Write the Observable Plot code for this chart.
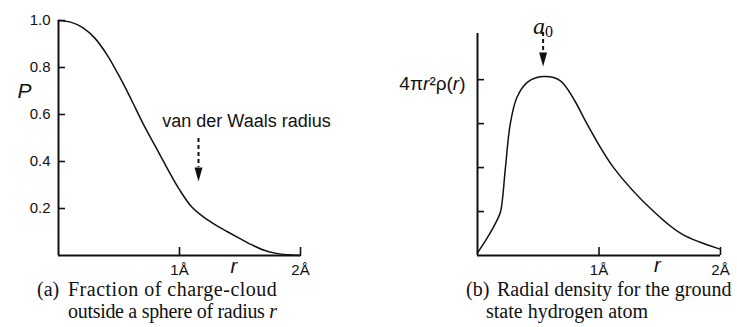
<!DOCTYPE html>
<html><head><meta charset="utf-8">
<script src="https://cdn.jsdelivr.net/npm/d3@7"></script>
<script src="https://cdn.jsdelivr.net/npm/@observablehq/plot@0.6"></script>
<style>
html,body{margin:0;padding:0;background:#fff;}
#wrap{position:relative;width:737px;height:327px;overflow:hidden;font-family:"Liberation Sans",Arial,sans-serif;color:#111;}
.panel{position:absolute;top:0;}
.cap{position:absolute;font-family:"Liberation Serif","Times New Roman",serif;font-size:20px;line-height:22px;color:#111;white-space:nowrap;}
</style></head><body>
<div id="wrap">
  <div id="pa" class="panel" style="left:0"></div>
  <div id="pb" class="panel" style="left:370px"></div>
  <div class="cap" style="left:37px;top:278px">(a)</div>
  <div class="cap" style="left:68px;top:278px"><span style="letter-spacing:0.5px">Fraction of charge-cloud</span><br><span style="letter-spacing:-0.3px">outside a sphere of radius <i>r</i></span></div>
  <div class="cap" style="left:466px;top:278px">(b)</div>
  <div class="cap" style="left:486px;top:278px"><span style="padding-left:11px">Radial density for the ground</span><br>state hydrogen atom</div>
</div>
<script>
// ---- Panel (a): fraction of charge cloud outside sphere of radius r ----
const rA = [0, 0.1, 0.2, 0.3, 0.4, 0.5, 0.6, 0.7, 0.8, 0.9, 1.0, 1.1, 1.2, 1.3, 1.4, 1.5, 1.6, 1.7, 1.8, 1.9, 2.0];
const pA = [1.0, 0.993, 0.97, 0.925, 0.855, 0.765, 0.665, 0.56, 0.465, 0.37, 0.28, 0.207, 0.163, 0.129, 0.1, 0.072, 0.045, 0.022, 0.009, 0.003, 0.0];
const yTicksA = [0.2, 0.4, 0.6, 0.8, 1.0];
const xTicks = [1, 2];
const xTickLabels = ["1Å", "2Å"];
const yTitleA = [{y: 0.70, text: "P"}];
const xTitle = "r";
const xTitlePosA = [1.45];
const noteA = [{x: 1.554, y: 0.57, text: "van der Waals radius"}];
const arrowA = [{x: 1.157, y1: 0.498, y2: 0.375}];

// ---- Panel (b): radial density for ground state hydrogen ----
const rB = [0, 0.08, 0.16, 0.19, 0.23, 0.27, 0.325, 0.41, 0.54, 0.68, 0.80, 0.90, 1.12, 1.45, 1.68, 1.99];
const vB = [0.06, 0.40, 0.80, 1.0, 2.0, 3.0, 3.6, 3.94, 4.07, 3.98, 3.52, 3.0, 2.0, 1.0, 0.49, 0.15];
const yTicksB = [1, 2, 3, 4];
const yLabelB = [{y: 4, text: "4πr²ρ(r)"}];
const xTitlePosB = [1.48];
const noteB = [{x: 0.54, text: "a0"}];
const arrowB = [{x: 0.54, y1: 5.07, y2: 4.62}];

const ink = "#111";
const sans = "Liberation Sans, Arial, sans-serif";
const arrowHead = {draw(ctx, size) {
  const k = Math.sqrt(size / Math.PI);
  ctx.moveTo(-0.8 * k, 0); ctx.lineTo(0.8 * k, 0); ctx.lineTo(0, 2.8 * k); ctx.closePath();
}};
const fmtX = d => xTickLabels[xTicks.indexOf(d)];

const plotA = Plot.plot({
  width: 370, height: 282,
  marginLeft: 58, marginRight: 70, marginTop: 20, marginBottom: 27,
  x: {domain: [0, 2], axis: null},
  y: {domain: [0, 1], axis: null},
  style: {fontFamily: sans, fontSize: "15px", color: ink, background: "white", overflow: "visible"},
  marks: [
    Plot.axisY(yTicksA, {tickSize: 7, dx: 7, fill: "none", label: null, strokeWidth: 1.6}),
    Plot.axisY(yTicksA, {tickSize: 0, tickPadding: 8, stroke: "none", tickFormat: d3.format(".1f"), label: null, fontSize: 15}),
    Plot.axisX(xTicks, {tickSize: 8, dy: -8, fill: "none", label: null, strokeWidth: 1.6}),
    Plot.axisX(xTicks, {tickSize: 0, tickPadding: 9, stroke: "none", tickFormat: fmtX, label: null, fontSize: 15}),
    Plot.ruleX([0], {stroke: ink, strokeWidth: 2}),
    Plot.ruleY([0], {stroke: ink, strokeWidth: 2}),
    Plot.line(rA.map((r, i) => ({r, p: pA[i]})), {x: "r", y: "p", curve: "catmull-rom", stroke: ink, strokeWidth: 1.5}),
    Plot.text(yTitleA, {y: "y", text: "text", frameAnchor: "left", dx: -41, fontSize: 21, fontStyle: "italic", fill: ink}),
    Plot.text(xTitlePosA, {x: d => d, text: () => xTitle, frameAnchor: "bottom", dy: 17, fontSize: 20, fontStyle: "italic", fill: ink}),
    Plot.text(noteA, {x: "x", y: "y", text: "text", fontSize: 18, fill: ink}),
    Plot.ruleX(arrowA, {x: "x", y1: "y1", y2: "y2", stroke: ink, strokeWidth: 2, strokeDasharray: "4,3"}),
    Plot.dot(arrowA, {x: "x", y: "y2", symbol: arrowHead, r: 5, fill: ink, stroke: "none"})
  ]
});

const plotB = Plot.plot({
  width: 367, height: 282,
  marginLeft: 107, marginRight: 17, marginTop: 33, marginBottom: 27,
  x: {domain: [0, 2], axis: null},
  y: {domain: [0, 5.05], axis: null},
  style: {fontFamily: sans, fontSize: "15px", color: ink, background: "white", overflow: "visible"},
  marks: [
    Plot.axisY(yTicksB, {tickSize: 7, dx: 7, fill: "none", label: null, strokeWidth: 1.6}),
    Plot.axisX(xTicks, {tickSize: 8, dy: -8, fill: "none", label: null, strokeWidth: 1.6}),
    Plot.axisX(xTicks, {tickSize: 0, tickPadding: 9, stroke: "none", tickFormat: fmtX, label: null, fontSize: 15}),
    Plot.ruleX([0], {stroke: ink, strokeWidth: 2}),
    Plot.ruleY([0], {stroke: ink, strokeWidth: 2}),
    Plot.line(rB.map((r, i) => ({r, v: vB[i]})), {x: "r", y: "v", curve: "catmull-rom", stroke: ink, strokeWidth: 1.5}),
    Plot.text(yLabelB, {y: "y", text: "text", frameAnchor: "left", textAnchor: "end", dx: -12, dy: 4, fontSize: 19, fill: ink}),
    Plot.text(xTitlePosB, {x: d => d, text: () => xTitle, frameAnchor: "bottom", dy: 16, fontSize: 20, fontStyle: "italic", fill: ink}),
    Plot.text(noteB, {x: "x", text: "text", frameAnchor: "top", dy: -17, fontSize: 24, fontFamily: "Liberation Serif, Times New Roman, serif", fill: ink}),
    Plot.ruleX(arrowB, {x: "x", y1: "y1", y2: "y2", stroke: ink, strokeWidth: 2, strokeDasharray: "4,3"}),
    Plot.dot(arrowB, {x: "x", y: "y2", symbol: arrowHead, r: 5, fill: ink, stroke: "none"})
  ]
});

// rich text: italic r's, subscript 0
function richify(svg, match, parts) {
  d3.select(svg).selectAll("text").each(function() {
    if (this.textContent !== match) return;
    const t = d3.select(this);
    t.text(null);
    for (const p of parts) {
      const s = t.append("tspan").text(p.t);
      if (p.italic) s.attr("font-style", "italic");
      if (p.size) s.attr("font-size", p.size);
      if (p.dy) s.attr("dy", p.dy);
    }
  });
}
richify(plotB, yLabelB[0].text, [{t: "4π"}, {t: "r", italic: true}, {t: "²ρ("}, {t: "r", italic: true}, {t: ")"}]);
richify(plotB, noteB[0].text, [{t: "a", italic: true}, {t: "0", size: 16, dy: 3}]);

document.getElementById("pa").appendChild(plotA);
document.getElementById("pb").appendChild(plotB);
</script>
</body></html>
